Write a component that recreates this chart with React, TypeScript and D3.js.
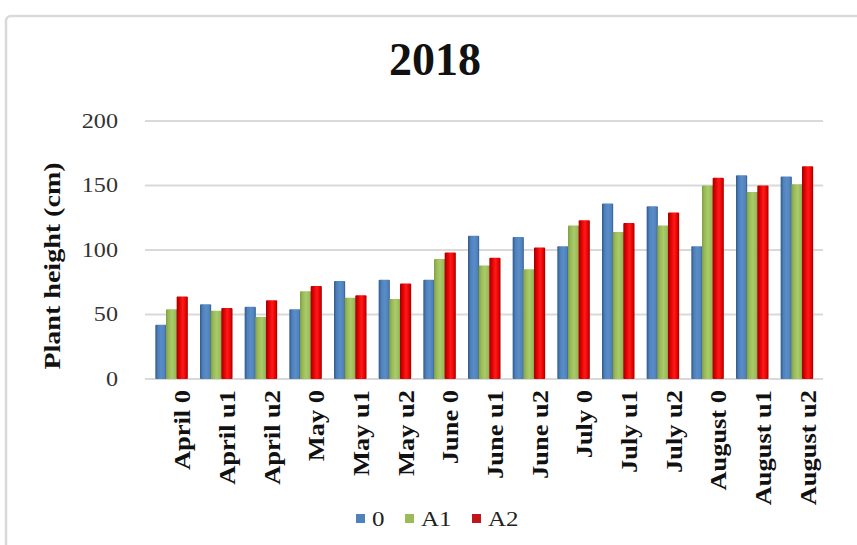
import React from "react";
import * as d3 from "d3";

const categories = [
  "April 0", "April u1", "April u2",
  "May 0", "May u1", "May u2",
  "June 0", "June u1", "June u2",
  "July 0", "July u1", "July u2",
  "August 0", "August u1", "August u2",
];
const seriesNames = ["0", "A1", "A2"];
const values0 = [42, 58, 56, 54, 76, 77, 77, 111, 110, 103, 136, 134, 103, 158, 157];
const valuesA1 = [54, 53, 48, 68, 63, 62, 93, 88, 85, 119, 114, 119, 150, 145, 151];
const valuesA2 = [64, 55, 61, 72, 65, 74, 98, 94, 102, 123, 121, 129, 156, 150, 165];
const yTicks = [0, 50, 100, 150, 200];

const W = 857;
const H = 545;
const serif = "'Liberation Serif', 'DejaVu Serif', serif";

const palette = [
  { edge: "#2f5a88", mid: "#5a8cc6", base: "#4f81bd", legend: "#4f81bd" },
  { edge: "#7fa043", mid: "#a9cb6a", base: "#9bbb59", legend: "#9bbb59" },
  { edge: "#9a0000", mid: "#ff1a1a", base: "#e00000", legend: "#c0161b" },
];

export default function App() {
  const series = [values0, valuesA1, valuesA2];
  const x = d3.scaleBand<string>().domain(categories).range([149, 819]).paddingInner(0).paddingOuter(0);
  const inner = d3.scaleBand<number>().domain([0, 1, 2]).range([0, 32]);
  const y = d3.scaleLinear().domain([0, 200]).range([379, 121]);
  const gx0 = 145;
  const gx1 = 823;

  return (
    <svg
      width={W}
      height={H}
      style={{ position: "absolute", left: 0, top: 0, background: "#fff" }}
    >
      <defs>
        {palette.map((p, i) => (
          <linearGradient key={i} id={`bar${i}`} x1="0" x2="1" y1="0" y2="0">
            <stop offset="0" stopColor={p.edge} />
            <stop offset="0.25" stopColor={p.base} />
            <stop offset="0.55" stopColor={p.mid} />
            <stop offset="0.85" stopColor={p.base} />
            <stop offset="1" stopColor={p.edge} />
          </linearGradient>
        ))}
      </defs>

      {/* chart frame */}
      <rect x={6} y={16} width={W + 20} height={H + 20} rx={5} fill="#fff" stroke="#d9d9d9" strokeWidth={2.5} />

      {/* title */}
      <text x={435} y={75} textAnchor="middle" fontFamily={serif} fontWeight="bold" fontSize={46} fill="#111">
        2018
      </text>

      {/* gridlines */}
      {yTicks.map((t) => (
        <line key={t} x1={gx0} x2={gx1} y1={y(t)} y2={y(t)} stroke="#d9d9d9" strokeWidth={2} />
      ))}

      {/* y tick labels */}
      {yTicks.map((t) => (
        <text
          key={t}
          transform={`translate(118,${y(t)}) scale(1.15,1)`}
          textAnchor="end"
          dominantBaseline="central"
          fontFamily={serif}
          fontSize={21}
          fill="#333"
        >
          {t}
        </text>
      ))}

      {/* y axis title */}
      <text
        transform={`translate(52,266) rotate(-90) scale(1.22,1)`}
        textAnchor="middle"
        dominantBaseline="central"
        fontFamily={serif}
        fontWeight="bold"
        fontSize={23}
        fill="#111"
      >
        Plant height (cm)
      </text>

      {/* bars */}
      {categories.map((c, ci) => (
        <g key={c} transform={`translate(${(x(c) ?? 0) + (x.bandwidth() - 32) / 2},0)`}>
          {series.map((vals, si) => (
            <rect
              key={si}
              x={inner(si)}
              y={y(vals[ci])}
              width={inner.bandwidth() + 0.5}
              height={y(0) - y(vals[ci])}
              fill={`url(#bar${si})`}
              rx={1}
            />
          ))}
        </g>
      ))}

      {/* category labels */}
      {categories.map((c) => (
        <text
          key={c}
          transform={`translate(${(x(c) ?? 0) + x.bandwidth() / 2 + 11},390) rotate(-90) scale(1.15,1)`}
          textAnchor="end"
          dominantBaseline="central"
          fontFamily={serif}
          fontWeight="bold"
          fontSize={23}
          fill="#111"
        >
          {c}
        </text>
      ))}

      {/* legend */}
      {seriesNames.map((name, i) => {
        const lx = [356, 405, 472][i];
        return (
          <g key={name}>
            <rect x={lx} y={514} width={9} height={9} fill={palette[i].legend} />
            <text
              transform={`translate(${lx + 16},519) scale(1.25,1)`}
              dominantBaseline="central"
              fontFamily={serif}
              fontSize={20}
              fill="#222"
            >
              {name}
            </text>
          </g>
        );
      })}
    </svg>
  );
}
